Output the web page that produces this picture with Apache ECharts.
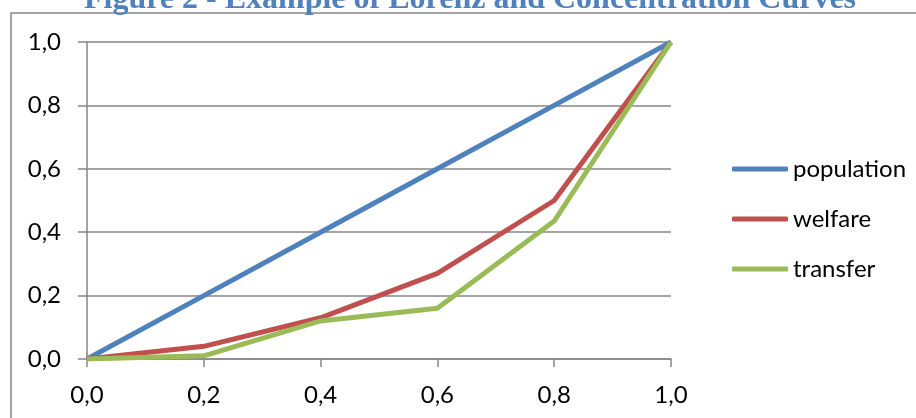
<!DOCTYPE html>
<html>
<head>
<meta charset="utf-8">
<style>html,body{margin:0;padding:0;background:#fff;}#c{width:916px;height:418px;}</style>
<script src="https://cdn.jsdelivr.net/npm/echarts@6/dist/echarts.min.js"></script>
</head>
<body>
<div id="c"></div>
<script>
var titleText = 'Figure 2 - Example of Lorenz and Concentration Curves';
var xValues = [0, 0.2, 0.4, 0.6, 0.8, 1.0];
var population = [0, 0.2, 0.4, 0.6, 0.8, 1.0];
var welfare = [0, 0.04, 0.13, 0.27, 0.50, 1.0];
var transfer = [0, 0.01, 0.12, 0.16, 0.435, 1.0];
var seriesNames = ['population', 'welfare', 'transfer'];
var colors = ['#4F81BD', '#C0504D', '#9BBB59'];

function pairs(ys) { return xValues.map(function (x, i) { return [x, ys[i]]; }); }
function fmt(v) { return v.toFixed(1).replace('.', ','); }

var chart = echarts.init(document.getElementById('c'), null, {renderer: 'canvas'});
var font = 'Lato';
var gridColor = '#868686';
chart.setOption({
  animation: false,
  color: colors,
  graphic: [
    {type: 'rect', shape: {x: 11, y: 13, width: 1000, height: 1000}, style: {fill: 'none', stroke: gridColor, lineWidth: 1.5}, silent: true},
    {type: 'text', x: 470, y: 16, style: {text: titleText, fill: '#4F81BD', font: 'bold 32px "Liberation Serif"', textAlign: 'center', textVerticalAlign: 'bottom'}, silent: true}
  ],
  grid: {left: 87, right: 245, top: 42, bottom: 59},
  legend: {
    orient: 'vertical', left: 727, top: 152, itemWidth: 56, itemHeight: 5, itemGap: 26,
    icon: 'roundRect',
    textStyle: {fontFamily: font, fontSize: 24, color: '#000', lineHeight: 20},
    data: seriesNames
  },
  xAxis: {
    type: 'value', min: 0, max: 1, interval: 0.2,
    axisLine: {show: true, lineStyle: {color: gridColor, width: 1.5}},
    axisTick: {show: true, inside: false, length: 8, lineStyle: {color: gridColor, width: 1.5}},
    axisLabel: {formatter: fmt, fontFamily: font, fontSize: 24, color: '#000', margin: 24},
    splitLine: {show: false}
  },
  yAxis: {
    type: 'value', min: 0, max: 1, interval: 0.2,
    axisLine: {show: true, lineStyle: {color: gridColor, width: 1.5}},
    axisTick: {show: true, inside: false, length: 9, lineStyle: {color: gridColor, width: 1.5}},
    axisLabel: {formatter: fmt, fontFamily: font, fontSize: 24, color: '#000', margin: 26},
    splitLine: {show: true, lineStyle: {color: gridColor, width: 1.5}}
  },
  series: [
    {name: seriesNames[0], type: 'line', data: pairs(population), symbol: 'none', lineStyle: {width: 5}},
    {name: seriesNames[1], type: 'line', data: pairs(welfare), symbol: 'none', lineStyle: {width: 5}},
    {name: seriesNames[2], type: 'line', data: pairs(transfer), symbol: 'none', lineStyle: {width: 5}}
  ]
});
</script>
</body>
</html>
